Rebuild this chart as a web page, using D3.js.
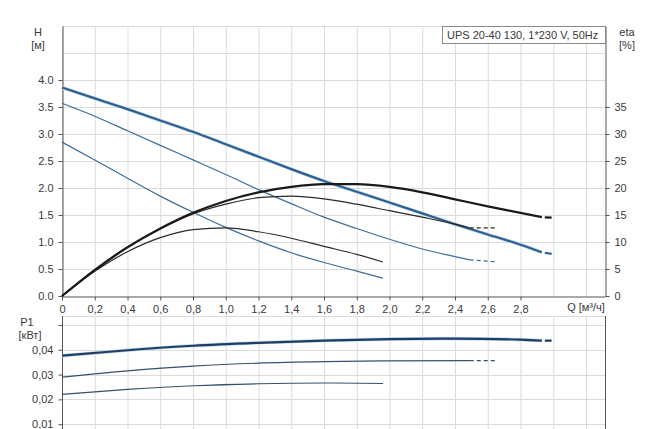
<!DOCTYPE html>
<html><head><meta charset="utf-8">
<script src="https://cdn.jsdelivr.net/npm/d3@7"></script>
<style>body{margin:0;background:#fff}svg{display:block}text{font-family:"Liberation Sans",Arial,sans-serif;fill:#3a3a3a}</style>
</head><body><svg id="c" width="650" height="429"></svg>
<script>
// ---- data ----
const title = "UPS 20-40 130, 1*230 V, 50Hz";
const qTicks = [0,0.2,0.4,0.6,0.8,1.0,1.2,1.4,1.6,1.8,2.0,2.2,2.4,2.6,2.8];
const qGrid = [0,0.2,0.4,0.6,0.8,1.0,1.2,1.4,1.6,1.8,2.0,2.2,2.4,2.6,2.8,3.0,3.2];
const hTicks = [0,0.5,1.0,1.5,2.0,2.5,3.0,3.5,4.0];
const hGrid = [0.5,1.0,1.5,2.0,2.5,3.0,3.5,4.0,4.5,5.0];
const etaTicks = [0,5,10,15,20,25,30,35];
const pTicks = [0.01,0.02,0.03,0.04];
const pGrid = [0.01,0.02,0.03,0.04,0.05];

const q3 = [0,0.2,0.4,0.6,0.8,1.0,1.2,1.4,1.6,1.8,2.0,2.2,2.4,2.6,2.8,2.93];
const H3 = [3.86,3.66,3.46,3.25,3.04,2.81,2.58,2.35,2.13,1.93,1.73,1.53,1.33,1.14,0.95,0.81];
const eta3 = [0,4.8,9.0,12.5,15.4,17.6,19.2,20.2,20.7,20.7,20.2,19.2,17.9,16.6,15.4,14.6];
const qP3 = [0,0.4,0.8,1.2,1.6,2.0,2.4,2.8,2.93];
const P3 = [0.0376,0.0398,0.0416,0.0428,0.0437,0.0443,0.0445,0.0441,0.0437];

const q2 = [0,0.2,0.4,0.6,0.8,1.0,1.2,1.4,1.6,1.8,2.0,2.2,2.4,2.49];
const H2 = [3.57,3.33,3.06,2.79,2.52,2.25,1.97,1.71,1.46,1.25,1.05,0.87,0.73,0.67];
const eta2 = [0,4.9,9.1,12.4,15.2,17.0,18.2,18.5,18.0,17.0,15.8,14.6,13.3,12.6];
const qP2 = [0,0.4,0.8,1.2,1.6,2.0,2.49];
const P2 = [0.0290,0.0315,0.0334,0.0346,0.0352,0.0355,0.0356];

const q1 = [0,0.2,0.4,0.6,0.8,1.0,1.2,1.4,1.6,1.8,1.96];
const H1 = [2.85,2.52,2.18,1.85,1.55,1.27,1.02,0.80,0.62,0.46,0.33];
const eta1 = [0,4.6,8.2,10.8,12.3,12.6,11.9,10.7,9.2,7.7,6.3];
const qP1 = [0,0.4,0.8,1.2,1.6,1.96];
const P1 = [0.0220,0.0240,0.0255,0.0263,0.0266,0.0264];

// dashed extensions
const qExt3 = [2.93,2.99], HExt3 = [0.81,0.78], etaExt3 = [14.6,14.5], PExt3 = [0.0437,0.0437];
const qExt2 = [2.49,2.66], HExt2 = [0.67,0.63], etaExt2 = [12.6,12.6], PExt2 = [0.0356,0.0356];

// ---- layout ----
const svg = d3.select("#c");
const L = 62, R = 605;
const x = d3.scaleLinear().domain([0,3.316]).range([L,R]);
const yH = d3.scaleLinear().domain([0,5]).range([296,26]);
const yE = d3.scaleLinear().domain([0,50]).range([296,26]);
const yP = d3.scaleLinear().domain([0,0.0536]).range([449,316]);
const fmtC = d => d===0 ? "0" : d3.format(".1f")(d).replace(".",",");
const fmtP = d => d3.format(".2f")(d).replace(".",",");

const grid = svg.append("g").attr("stroke","#dcdcdc").attr("stroke-width",1);
qGrid.forEach(v=>grid.append("line").attr("x1",x(v)+.5).attr("x2",x(v)+.5).attr("y1",yH(5)).attr("y2",yH(0)));
hGrid.forEach(v=>grid.append("line").attr("x1",L).attr("x2",R).attr("y1",Math.round(yH(v))+.5).attr("y2",Math.round(yH(v))+.5));
qGrid.forEach(v=>grid.append("line").attr("x1",x(v)+.5).attr("x2",x(v)+.5).attr("y1",316).attr("y2",429));
grid.append("line").attr("x1",L).attr("x2",R).attr("y1",316.5).attr("y2",316.5);
pGrid.forEach(v=>grid.append("line").attr("x1",L).attr("x2",R).attr("y1",Math.round(yP(v))+.5).attr("y2",Math.round(yP(v))+.5));

// axes
const axC = "#555";
function styleAxis(g){ g.select(".domain").attr("stroke",axC); g.selectAll(".tick line").attr("stroke",axC); g.selectAll("text").attr("font-size",11).style("fill","#3a3a3a"); }
svg.append("g").attr("transform",`translate(${L+.5},0)`)
  .call(d3.axisLeft(yH).tickValues(hTicks).tickFormat(d3.format(".1f")).tickSize(4).tickSizeOuter(0)).call(styleAxis)
  .call(g=>g.selectAll("text").attr("dx",-2));
svg.append("g").attr("transform",`translate(${R+.5},0)`)
  .call(d3.axisRight(yE).tickValues(etaTicks).tickSize(4).tickSizeOuter(0)).call(styleAxis)
  .call(g=>g.selectAll("text").attr("dx",2));
svg.append("g").attr("transform",`translate(0,296.5)`)
  .call(d3.axisBottom(x).tickValues(qTicks).tickFormat(fmtC).tickSize(4).tickSizeOuter(0)).call(styleAxis)
  .call(g=>g.selectAll("text").attr("dy","0.9em"));
svg.append("g").attr("transform",`translate(${L+.5},0)`)
  .call(d3.axisLeft(yP).tickValues(pGrid).tickFormat(d=>d>=0.05?"":fmtP(d)).tickSize(4).tickSizeOuter(0)).call(styleAxis)
  .call(g=>g.select(".domain").attr("d",`M0,316V429`)).call(g=>g.selectAll("text").attr("dx",-2));
svg.append("line").attr("x1",R+.5).attr("x2",R+.5).attr("y1",316).attr("y2",429).attr("stroke",axC);

// axis titles
const t = (s,xx,yy,anchor="middle")=>svg.append("text").attr("x",xx).attr("y",yy).attr("text-anchor",anchor).attr("font-size",11).text(s);
t("H",38,36); t("[м]",38,49);
t("eta",627,36); t("[%]",627,49);
t("Q [м³/ч]",586,311);
t("P1",27,326); t("[кВт]",30,339);

// legend box
svg.append("rect").attr("x",442.5).attr("y",26.5).attr("width",R-442).attr("height",17).attr("fill","#fff").attr("stroke","#8a8a8a");
t(title,447,39,"start");

// curves
function draw(qs, vs, y, color, w, dash){
  const pts = qs.map((q,i)=>[x(q),y(vs[i])]);
  svg.append("path").attr("d",d3.line().curve(d3.curveMonotoneX)(pts))
    .attr("fill","none").attr("stroke",color).attr("stroke-width",w)
    .attr("stroke-dasharray",dash||null).attr("stroke-linecap","butt");
}
const blue="#2f5f8f", blueT="#3f6d9a", blk="#1a1a1a", blkT="#2a2a2a", pB="#1f3e63", pT="#35516f";
const d3x = "0,3,8";
draw(q3,H3,yH,"#c6dcef",3.6);
draw(qP3,P3,yP,"#c6dcef",3.6);
draw(q1,H1,yH,blueT,1.2); draw(q2,H2,yH,blueT,1.2); draw(q3,H3,yH,blue,2.2);
draw(qExt2,HExt2,yH,blueT,1.2,"4,3"); draw(qExt3,HExt3,yH,blue,2.2,d3x);
draw(q1,eta1,yE,blkT,1.2); draw(q2,eta2,yE,blkT,1.2); draw(q3,eta3,yE,blk,2.2);
draw(qExt2,etaExt2,yE,blkT,1.2,"4,3"); draw(qExt3,etaExt3,yE,blk,2.2,d3x);
draw(qP1,P1,yP,pT,1.2); draw(qP2,P2,yP,pT,1.2); draw(qP3,P3,yP,pB,2.2);
draw(qExt2,PExt2,yP,pT,1.2,"4,3"); draw(qExt3,PExt3,yP,pB,2.2,d3x);
</script></body></html>
